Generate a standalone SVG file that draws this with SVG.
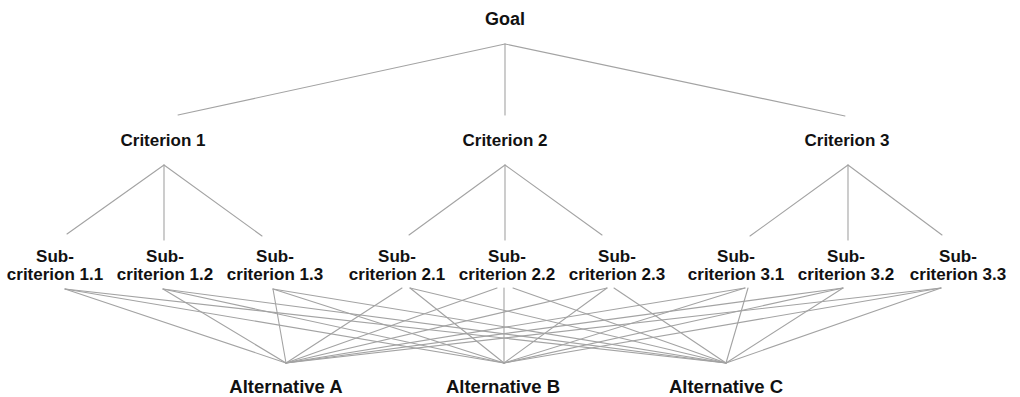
<svg xmlns="http://www.w3.org/2000/svg" width="1020" height="397" viewBox="0 0 1020 397">
  <style>
    .bg { fill: #ffffff; }
    .edge { stroke: #a3a3a3; stroke-width: 1.1; fill: none; stroke-linecap: round; }
    .lbl { font-family: "Liberation Sans", Arial, sans-serif; font-weight: bold; fill: #111111; text-anchor: middle; }
    .goal { font-size: 18px; }
    .crit { font-size: 17px; }
    .sub { font-size: 17px; }
    .alt { font-size: 18.5px; }
  </style>
  <rect class="bg" x="0" y="0" width="1020" height="397"/>

  <g id="connectors">
    <!-- goal to criteria -->
    <line class="edge" x1="505" y1="44" x2="178" y2="115"/>
    <line class="edge" x1="505" y1="44" x2="505" y2="115"/>
    <line class="edge" x1="505" y1="44" x2="845" y2="116"/>
    <!-- criteria to sub-criteria -->
    <line class="edge" x1="164" y1="165" x2="67" y2="234"/>
    <line class="edge" x1="164" y1="165" x2="164" y2="240"/>
    <line class="edge" x1="164" y1="165" x2="262" y2="236"/>
    <line class="edge" x1="505" y1="165" x2="409" y2="235"/>
    <line class="edge" x1="505" y1="165" x2="505" y2="240"/>
    <line class="edge" x1="505" y1="165" x2="602" y2="235"/>
    <line class="edge" x1="848" y1="165" x2="750" y2="236"/>
    <line class="edge" x1="848" y1="165" x2="848" y2="240"/>
    <line class="edge" x1="848" y1="165" x2="942" y2="235"/>
    <!-- sub-criteria to alternatives -->
    <line class="edge" x1="65" y1="289" x2="286" y2="363"/>
    <line class="edge" x1="65" y1="289" x2="504" y2="363"/>
    <line class="edge" x1="65" y1="289" x2="726" y2="363"/>
    <line class="edge" x1="163" y1="289" x2="286" y2="363"/>
    <line class="edge" x1="163" y1="289" x2="504" y2="363"/>
    <line class="edge" x1="163" y1="289" x2="726" y2="363"/>
    <line class="edge" x1="273" y1="289" x2="286" y2="363"/>
    <line class="edge" x1="273" y1="289" x2="504" y2="363"/>
    <line class="edge" x1="273" y1="289" x2="726" y2="363"/>
    <line class="edge" x1="402" y1="288" x2="286" y2="363"/>
    <line class="edge" x1="410" y1="288" x2="504" y2="363"/>
    <line class="edge" x1="410" y1="288" x2="726" y2="363"/>
    <line class="edge" x1="497" y1="288" x2="286" y2="363"/>
    <line class="edge" x1="504" y1="288" x2="504" y2="363"/>
    <line class="edge" x1="513" y1="288" x2="726" y2="363"/>
    <line class="edge" x1="607" y1="288" x2="286" y2="363"/>
    <line class="edge" x1="607" y1="288" x2="504" y2="363"/>
    <line class="edge" x1="614" y1="288" x2="726" y2="363"/>
    <line class="edge" x1="745" y1="288" x2="286" y2="363"/>
    <line class="edge" x1="745" y1="288" x2="504" y2="363"/>
    <line class="edge" x1="748" y1="288" x2="726" y2="363"/>
    <line class="edge" x1="843" y1="288" x2="286" y2="363"/>
    <line class="edge" x1="843" y1="288" x2="504" y2="363"/>
    <line class="edge" x1="843" y1="288" x2="726" y2="363"/>
    <line class="edge" x1="941" y1="288" x2="286" y2="363"/>
    <line class="edge" x1="941" y1="288" x2="504" y2="363"/>
    <line class="edge" x1="941" y1="288" x2="726" y2="363"/>
  </g>

  <g id="goal"><text class="lbl goal" x="505" y="25">Goal</text></g>

  <g id="criterion-1"><text class="lbl crit" x="163" y="146">Criterion 1</text></g>
  <g id="criterion-2"><text class="lbl crit" x="505" y="146">Criterion 2</text></g>
  <g id="criterion-3"><text class="lbl crit" x="847" y="146">Criterion 3</text></g>

  <g id="sub-1-1"><text class="lbl sub" x="55" y="262">Sub-</text><text class="lbl sub" x="55" y="280">criterion 1.1</text></g>
  <g id="sub-1-2"><text class="lbl sub" x="165" y="262">Sub-</text><text class="lbl sub" x="165" y="280">criterion 1.2</text></g>
  <g id="sub-1-3"><text class="lbl sub" x="275" y="262">Sub-</text><text class="lbl sub" x="275" y="280">criterion 1.3</text></g>
  <g id="sub-2-1"><text class="lbl sub" x="397" y="262">Sub-</text><text class="lbl sub" x="397" y="280">criterion 2.1</text></g>
  <g id="sub-2-2"><text class="lbl sub" x="507" y="262">Sub-</text><text class="lbl sub" x="507" y="280">criterion 2.2</text></g>
  <g id="sub-2-3"><text class="lbl sub" x="617" y="262">Sub-</text><text class="lbl sub" x="617" y="280">criterion 2.3</text></g>
  <g id="sub-3-1"><text class="lbl sub" x="736" y="262">Sub-</text><text class="lbl sub" x="736" y="280">criterion 3.1</text></g>
  <g id="sub-3-2"><text class="lbl sub" x="846" y="262">Sub-</text><text class="lbl sub" x="846" y="280">criterion 3.2</text></g>
  <g id="sub-3-3"><text class="lbl sub" x="958" y="262">Sub-</text><text class="lbl sub" x="958" y="280">criterion 3.3</text></g>

  <g id="alternative-a"><text class="lbl alt" x="286" y="393">Alternative A</text></g>
  <g id="alternative-b"><text class="lbl alt" x="503" y="393">Alternative B</text></g>
  <g id="alternative-c"><text class="lbl alt" x="726" y="393">Alternative C</text></g>
</svg>
